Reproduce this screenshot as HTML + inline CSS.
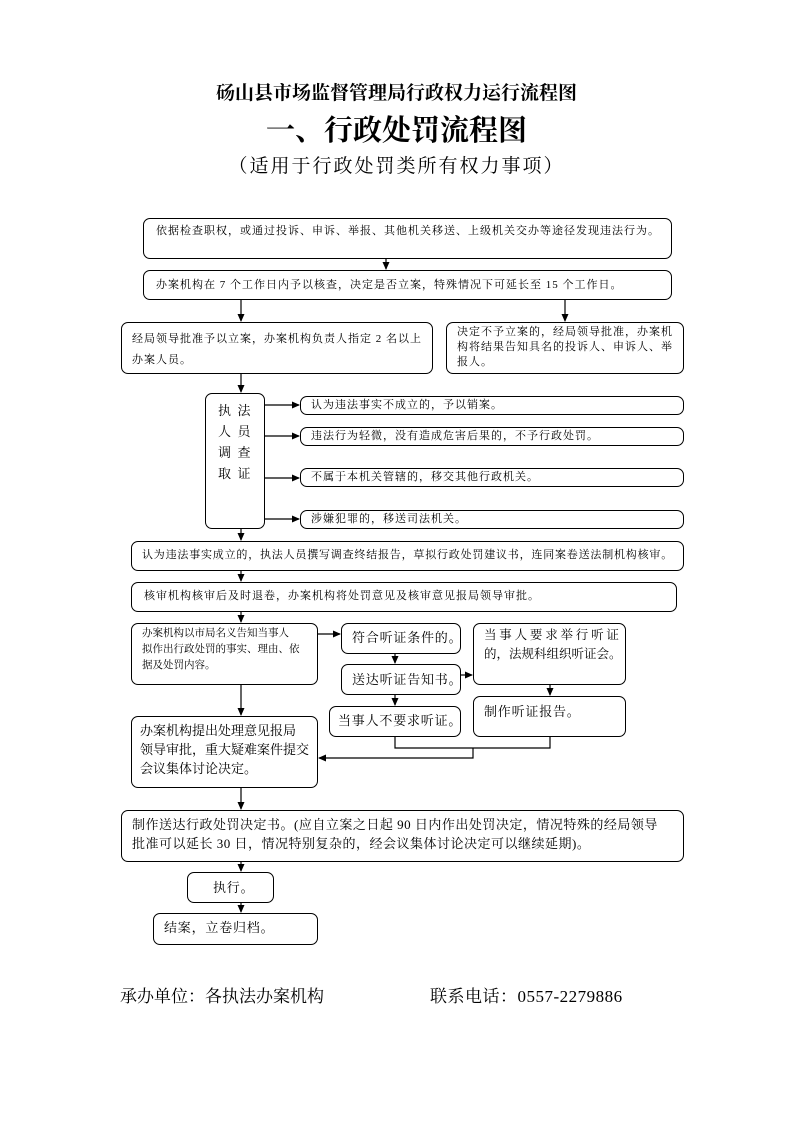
<!DOCTYPE html>
<html><head><meta charset="utf-8"><style>
body{margin:0;background:#fff;}
#p{position:relative;width:793px;height:1122px;font-family:"Liberation Serif","Noto Serif CJK SC","Noto Sans CJK SC",serif;color:#000;}
.t{position:absolute;left:0;width:793px;text-align:center;white-space:nowrap;}
.b{position:absolute;border:1.3px solid #000;border-radius:7px;box-sizing:border-box;font-size:11px;line-height:17px;padding:4px 8px;background:#fff;letter-spacing:1px;}
.n{white-space:nowrap;}
.l{font-size:13px;line-height:19px;letter-spacing:0.8px;}
svg{position:absolute;left:0;top:0;}
</style></head><body><div id="p">
<div class="t" style="top:78px;font-size:19px;font-weight:bold;">砀山县市场监督管理局行政权力运行流程图</div>
<div class="t" style="top:108px;font-size:29px;font-weight:bold;">一、行政处罚流程图</div>
<div class="t" style="top:151px;font-size:19px;letter-spacing:2px;">（适用于行政处罚类所有权力事项）</div>

<svg width="793" height="1122">
<defs><marker id="a" markerWidth="8" markerHeight="8" refX="7" refY="4" orient="auto" markerUnits="userSpaceOnUse"><path d="M0,0.5 L8,4 L0,7.5z" fill="#000"/></marker></defs>
<g stroke="#000" stroke-width="1.2" fill="none">
<line x1="386" y1="259" x2="386" y2="269" marker-end="url(#a)"/>
<line x1="241" y1="300" x2="241" y2="321" marker-end="url(#a)"/>
<line x1="565" y1="300" x2="565" y2="321" marker-end="url(#a)"/>
<line x1="241" y1="374" x2="241" y2="392" marker-end="url(#a)"/>
<line x1="265" y1="405" x2="299" y2="405" marker-end="url(#a)"/>
<line x1="265" y1="436" x2="299" y2="436" marker-end="url(#a)"/>
<line x1="265" y1="478" x2="299" y2="478" marker-end="url(#a)"/>
<line x1="265" y1="519" x2="299" y2="519" marker-end="url(#a)"/>
<line x1="241" y1="529" x2="241" y2="540" marker-end="url(#a)"/>
<line x1="241" y1="571" x2="241" y2="581" marker-end="url(#a)"/>
<line x1="241" y1="612" x2="241" y2="622" marker-end="url(#a)"/>
<line x1="318" y1="634" x2="340" y2="634" marker-end="url(#a)"/>
<line x1="395" y1="654" x2="395" y2="663" marker-end="url(#a)"/>
<line x1="461" y1="675" x2="472" y2="675" marker-end="url(#a)"/>
<line x1="550" y1="685" x2="550" y2="695" marker-end="url(#a)"/>
<line x1="395" y1="695" x2="395" y2="705" marker-end="url(#a)"/>
<polyline points="395,737 395,748 550,748 550,737"/>
<polyline points="473,748 473,758 319,758" marker-end="url(#a)"/>
<line x1="241" y1="685" x2="241" y2="715" marker-end="url(#a)"/>
<line x1="241" y1="788" x2="241" y2="809" marker-end="url(#a)"/>
<line x1="241" y1="862" x2="241" y2="871" marker-end="url(#a)"/>
<line x1="241" y1="903" x2="241" y2="912" marker-end="url(#a)"/>
</g></svg>

<div class="b n" style="left:143px;top:218px;width:529px;height:41px;padding:4px 12px;">依据检查职权，或通过投诉、申诉、举报、其他机关移送、上级机关交办等途径发现违法行为。</div>
<div class="b n" style="left:143px;top:270px;width:529px;height:30px;padding:6px 12px;">办案机构在 7 个工作日内予以核查，决定是否立案，特殊情况下可延长至 15 个工作日。</div>
<div class="b" style="left:121px;top:322px;width:312px;height:52px;padding:6px 10px 0 10px;line-height:21px;">经局领导批准予以立案，办案机构负责人指定 2 名以上办案人员。</div>
<div class="b" style="left:446px;top:322px;width:238px;height:52px;padding:2px 6px 0 10px;line-height:15px;">决定不予立案的，经局领导批准，办案机构将结果告知具名的投诉人、申诉人、举报人。</div>
<div class="b" style="left:205px;top:393px;width:60px;height:136px;font-size:13px;line-height:21px;padding:6px 0 0 12px;letter-spacing:0;">执&nbsp;&nbsp;法<br>人&nbsp;&nbsp;员<br>调&nbsp;&nbsp;查<br>取&nbsp;&nbsp;证</div>
<div class="b n" style="left:300px;top:396px;width:384px;height:19px;padding:0 10px;">认为违法事实不成立的，予以销案。</div>
<div class="b n" style="left:300px;top:427px;width:384px;height:19px;padding:0 10px;">违法行为轻微，没有造成危害后果的，不予行政处罚。</div>
<div class="b n" style="left:300px;top:468px;width:384px;height:19px;padding:0 10px;">不属于本机关管辖的，移交其他行政机关。</div>
<div class="b n" style="left:300px;top:510px;width:384px;height:19px;padding:0 10px;">涉嫌犯罪的，移送司法机关。</div>
<div class="b n" style="left:131px;top:541px;width:553px;height:30px;padding:5px 10px;letter-spacing:0.8px;">认为违法事实成立的，执法人员撰写调查终结报告，草拟行政处罚建议书，连同案卷送法制机构核审。</div>
<div class="b n" style="left:131px;top:582px;width:546px;height:30px;padding:5px 12px;">核审机构核审后及时退卷，办案机构将处罚意见及核审意见报局领导审批。</div>
<div class="b n" style="left:131px;top:623px;width:187px;height:62px;padding:2px 4px 0 10px;line-height:16px;font-size:10.5px;letter-spacing:0;">办案机构以市局名义告知当事人<br>拟作出行政处罚的事实、理由、依<br>据及处罚内容。</div>
<div class="b l n" style="left:341px;top:623px;width:120px;height:31px;padding:4px 10px;">符合听证条件的。</div>
<div class="b l n" style="left:341px;top:664px;width:120px;height:31px;padding:5px 10px;">送达听证告知书。</div>
<div class="b l n" style="left:473px;top:623px;width:153px;height:62px;padding:2px 4px 0 10px;letter-spacing:0;font-size:12.5px;"><span style="letter-spacing:2.8px;">当事人要求举行听证</span><br>的，法规科组织听证会。</div>
<div class="b l n" style="left:473px;top:696px;width:153px;height:41px;padding:5px 10px;">制作听证报告。</div>
<div class="b l n" style="left:329px;top:706px;width:132px;height:31px;padding:4px 8px;">当事人不要求听证。</div>
<div class="b l n" style="left:131px;top:716px;width:187px;height:72px;padding:4px 4px 0 8px;letter-spacing:0;">办案机构提出处理意见报局<br>领导审批，重大疑难案件提交<br>会议集体讨论决定。</div>
<div class="b l n" style="left:121px;top:810px;width:563px;height:52px;padding:4px 4px 0 10px;letter-spacing:0.5px;">制作送达行政处罚决定书。(应自立案之日起 90 日内作出处罚决定，情况特殊的经局领导<br>批准可以延长 30 日，情况特别复杂的，经会议集体讨论决定可以继续延期)。</div>
<div class="b l n" style="left:187px;top:872px;width:87px;height:31px;padding:5px 25px;">执行。</div>
<div class="b l n" style="left:153px;top:913px;width:165px;height:32px;padding:4px 10px;">结案，立卷归档。</div>

<div style="position:absolute;left:120px;top:982px;font-size:17px;white-space:nowrap;">承办单位：各执法办案机构</div>
<div style="position:absolute;left:430px;top:982px;font-size:17px;white-space:nowrap;letter-spacing:0.5px;">联系电话：0557-2279886</div>
</div></body></html>
